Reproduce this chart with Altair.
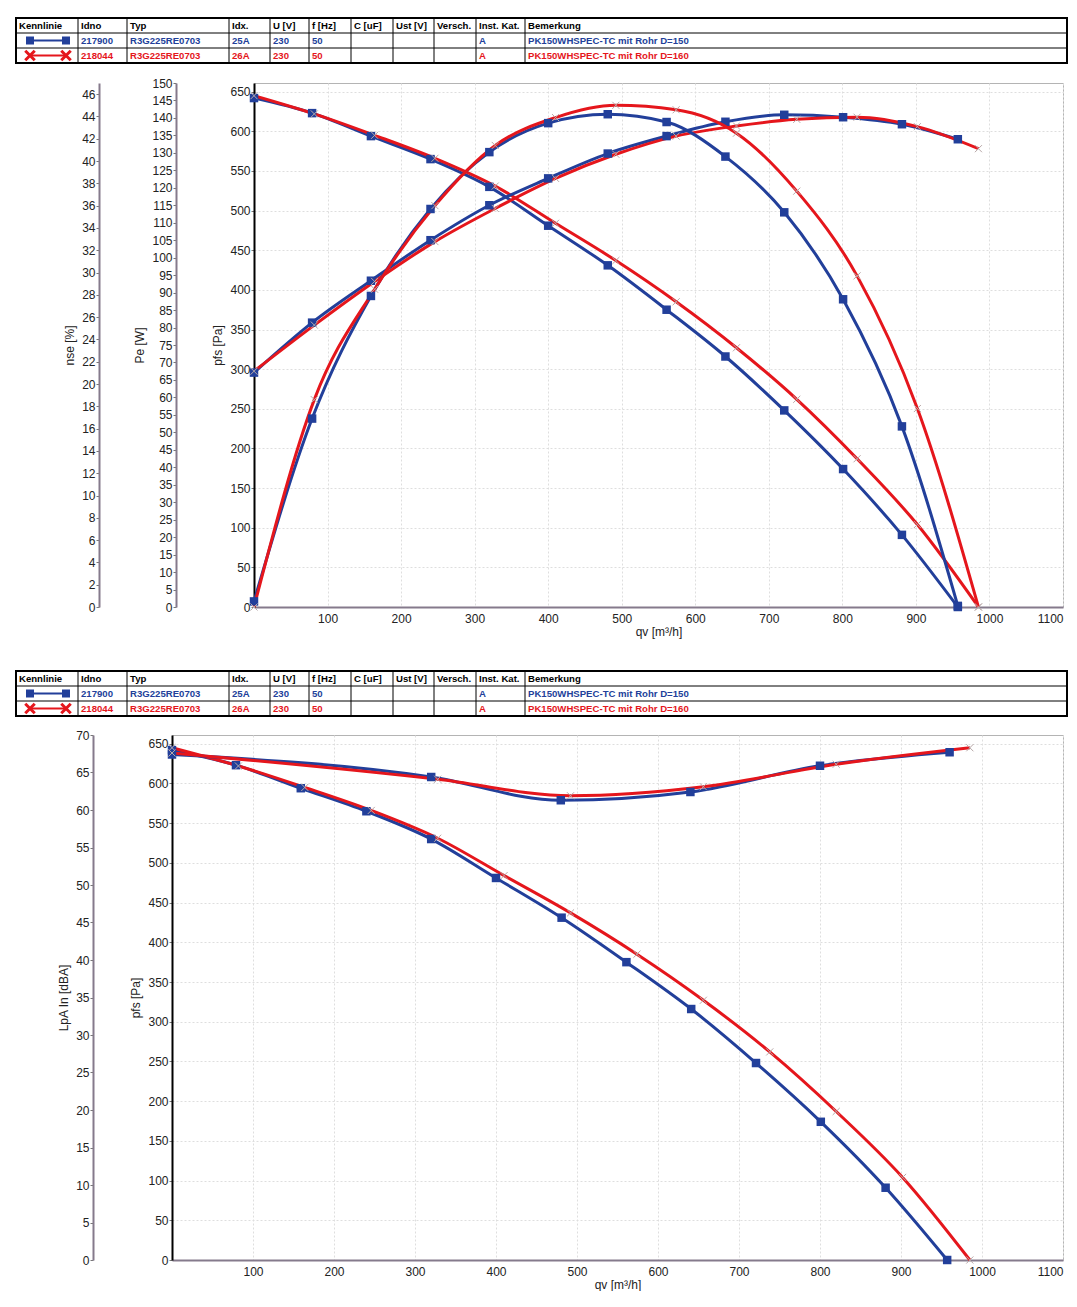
import altair as alt
import pandas as pd

# ---------------- data ----------------
SERIES = ["217900", "218044"]

# fan 217900 (blue, squares)
QV_B = [0, 79, 159, 240, 320, 400, 481, 561, 641, 721, 801, 881, 957]
PFS_B = [642, 623, 594, 565, 530, 481, 431, 375, 316, 248, 174, 91, 0]
PE_B = [67.1, 81.4, 93.4, 105.0, 115.0, 122.7, 129.8, 134.8, 138.9, 140.9, 140.2, 138.2, 133.9]
NSE_B = [0.5, 16.9, 27.9, 35.7, 40.8, 43.4, 44.2, 43.5, 40.4, 35.4, 27.6, 16.2, 0.1]

# fan 218044 (red, crosses)
QV_R = [0, 82, 164, 246, 328, 410, 492, 574, 656, 738, 820, 902, 985]
PFS_R = [645, 622, 595, 566, 531, 484, 437, 385, 327, 262, 187, 104, 0]
PE_R = [67.5, 80.7, 93.2, 104.6, 114.1, 122.7, 129.6, 134.8, 137.7, 139.6, 140.2, 137.5, 131.2]
NSE_R = [0, 18.6, 28.5, 36.0, 41.4, 43.9, 45.0, 44.6, 42.5, 37.3, 29.7, 17.8, 0]

# sound pressure level
LPA_QV_B = [0, 320, 480, 640, 800, 960]
LPA_B = [67.4, 64.4, 61.3, 62.4, 65.9, 67.7]
LPA_QV_R = [0, 328, 492, 656, 820, 985]
LPA_R = [67.6, 64.1, 61.9, 63.1, 66.1, 68.3]

# table
HEADERS = ["Kennlinie", "Idno", "Typ", "Idx.", "U [V]", "f [Hz]", "C [uF]", "Ust [V]",
           "Versch.", "Inst. Kat.", "Bemerkung"]
ROW1 = ["", "217900", "R3G225RE0703", "25A", "230", "50", "", "", "", "A",
        "PK150WHSPEC-TC mit Rohr D=150"]
ROW2 = ["", "218044", "R3G225RE0703", "26A", "230", "50", "", "", "", "A",
        "PK150WHSPEC-TC mit Rohr D=160"]

# axis ticks
PFS_TICKS = list(range(0, 651, 50))
PE_TICKS = list(range(0, 151, 5))
NSE_TICKS = list(range(0, 47, 2))
LPA_TICKS = list(range(0, 71, 5))
QV_TICKS = list(range(100, 1101, 100))

# ---------------- style / layout ----------------
BLUE = "#223f9a"
RED = "#e5161c"
CROSS = "#b8a8a8"
FONT = "Liberation Sans"
TFONT = "Liberation Sans"
AXIS_GREY = "#857a8c"
XPATH = "M-1,-1L1,1M-1,1L1,-1"

TABLE_W = 1051
TABLE_H = 45
COL_EDGES = [0, 62, 111, 213, 254, 293, 335, 377, 418, 460, 509, 1051]
ROW_EDGES = [0, 15, 30, 45]
ROW_MID = [7.5, 22.5, 37.5]
SYM_X = [14, 50]


def long_df(qb, vb, qr, vr):
    rows = [{"qv": q, "v": v, "s": SERIES[0]} for q, v in zip(qb, vb)]
    rows += [{"qv": q, "v": v, "s": SERIES[1]} for q, v in zip(qr, vr)]
    return pd.DataFrame(rows)


def family(df, yscale, yaxis, xscale, xaxis):
    base = alt.Chart(df)
    x = alt.X("qv:Q", scale=xscale, axis=xaxis)
    y = alt.Y("v:Q", scale=yscale, axis=yaxis)
    line = base.mark_line(interpolate="monotone", strokeWidth=3).encode(
        x=x, y=y,
        color=alt.Color("s:N", scale=alt.Scale(domain=SERIES, range=[BLUE, RED]), legend=None),
    )
    sq = base.transform_filter(alt.datum.s == SERIES[0]).mark_square(
        size=72, color=BLUE, opacity=1).encode(x=x, y=y)
    cr = base.transform_filter(alt.datum.s == SERIES[1]).mark_point(
        shape=XPATH, size=50, color=CROSS, strokeWidth=1, opacity=1).encode(x=x, y=y)
    return alt.layer(line, sq, cr)


def x_axis():
    return alt.Axis(title="qv [m³/h]", values=QV_TICKS, format="d", labelFlush=True,
                    grid=True, gridColor="#dedede",
                    gridDash=[2, 2], domainColor=AXIS_GREY, domainWidth=2, ticks=False,
                    labelPadding=6, labelFontSize=12, labelColor="#222", titleFontSize=12,
                    titleFontWeight="normal", titlePadding=2, titleColor="#222")


def pfs_axis():
    return alt.Axis(title="pfs [Pa]", values=PFS_TICKS, orient="left", grid=True,
                    gridColor="#dedede", gridDash=[2, 2], domainColor="#000", domainWidth=2,
                    tickColor="#777", tickSize=3, labelFontSize=12, labelColor="#222",
                    labelPadding=1, titleFontSize=12, titleFontWeight="normal",
                    titlePadding=5, titleColor="#222")


def side_axis(title, ticks, offset):
    return alt.Axis(title=title, values=ticks, orient="left", offset=offset, grid=False,
                    domainColor=AXIS_GREY, domainWidth=2, tickColor="#777", tickSize=3,
                    labelFontSize=12, labelColor="#222", labelPadding=1, titleFontSize=12,
                    titleFontWeight="normal", titlePadding=5, titleColor="#222")


def table_layer(xrange, yrange):
    xs = alt.Scale(domain=[0, TABLE_W], range=xrange, nice=False, zero=False)
    ys = alt.Scale(domain=[0, TABLE_H], range=yrange, nice=False, zero=False)
    X = lambda f: alt.X(f, scale=xs, axis=None)
    Y = lambda f: alt.Y(f, scale=ys, axis=None)

    hdf = pd.DataFrame({"x": [0] * len(ROW_EDGES), "x2": [TABLE_W] * len(ROW_EDGES), "y": ROW_EDGES})
    vdf = pd.DataFrame({"x": COL_EDGES, "y": [0] * len(COL_EDGES), "y2": [TABLE_H] * len(COL_EDGES)})
    bdf = pd.DataFrame({"x": [0], "x2": [TABLE_W], "y": [0], "y2": [TABLE_H]})

    hl = alt.Chart(hdf).mark_rule(color="#000", strokeWidth=1).encode(
        x=X("x:Q"), x2="x2:Q", y=Y("y:Q"))
    vl = alt.Chart(vdf).mark_rule(color="#000", strokeWidth=1).encode(
        x=X("x:Q"), y=Y("y:Q"), y2="y2:Q")
    border = alt.Chart(bdf).mark_rect(fillOpacity=0, stroke="#000", strokeWidth=2).encode(
        x=X("x:Q"), x2="x2:Q", y=Y("y:Q"), y2="y2:Q")

    layers = [hl, vl, border]
    for texts, ym, col in [(HEADERS, ROW_MID[0], "#000"), (ROW1, ROW_MID[1], BLUE),
                           (ROW2, ROW_MID[2], RED)]:
        tdf = pd.DataFrame({"x": [e + 3 for e in COL_EDGES[:-1]], "y": [ym] * len(texts), "t": texts})
        layers.append(alt.Chart(tdf).mark_text(
            align="left", baseline="middle", font=TFONT, fontSize=9.6, fontWeight="bold",
            color=col).encode(x=X("x:Q"), y=Y("y:Q"), text="t:N"))

    s1 = pd.DataFrame({"x": [SYM_X[0]], "x2": [SYM_X[1]], "y": [ROW_MID[1]]})
    s2 = pd.DataFrame({"x": [SYM_X[0]], "x2": [SYM_X[1]], "y": [ROW_MID[2]]})
    p1 = pd.DataFrame({"x": SYM_X, "y": [ROW_MID[1]] * 2})
    p2 = pd.DataFrame({"x": SYM_X, "y": [ROW_MID[2]] * 2})
    layers += [
        alt.Chart(s1).mark_rule(color=BLUE, strokeWidth=2).encode(x=X("x:Q"), x2="x2:Q", y=Y("y:Q")),
        alt.Chart(p1).mark_square(size=64, color=BLUE, opacity=1).encode(x=X("x:Q"), y=Y("y:Q")),
        alt.Chart(s2).mark_rule(color=RED, strokeWidth=2).encode(x=X("x:Q"), x2="x2:Q", y=Y("y:Q")),
        alt.Chart(p2).mark_point(shape=XPATH, size=90, color=RED, strokeWidth=3, opacity=1).encode(
            x=X("x:Q"), y=Y("y:Q")),
    ]
    return alt.layer(*layers)


def spacer():
    return alt.Chart(pd.DataFrame({"a": [0]})).mark_point(size=0, opacity=0).encode(
        x=alt.value(0), y=alt.value(0)
    ).properties(width=1, height=1, view=alt.ViewBackground(stroke="transparent"))


# ---------------- top panel ----------------
TOP_W, TOP_H = 809, 524
xs_top = alt.Scale(domain=[0, 1100], nice=False, zero=False)

top = alt.layer(
    family(long_df(QV_B, PFS_B, QV_R, PFS_R), alt.Scale(domain=[0, 661], nice=False),
           pfs_axis(), xs_top, x_axis()),
    family(long_df(QV_B, PE_B, QV_R, PE_R), alt.Scale(domain=[0, 150], nice=False),
           side_axis("Pe [W]", PE_TICKS, 78), xs_top, None),
    family(long_df(QV_B, NSE_B, QV_R, NSE_R), alt.Scale(domain=[0, 47], nice=False),
           side_axis("nse [%]", NSE_TICKS, 155), xs_top, None),
    table_layer([16 - 254, 1067 - 254], [19 - 84, 64 - 84]),
).resolve_scale(x="independent", y="independent").properties(width=TOP_W, height=TOP_H)

# ---------------- bottom panel ----------------
BOT_W, BOT_H = 891, 525
xs_bot = alt.Scale(domain=[0, 1100], nice=False, zero=False)

bottom = alt.layer(
    family(long_df(QV_B, PFS_B, QV_R, PFS_R), alt.Scale(domain=[0, 661], nice=False),
           pfs_axis(), xs_bot, x_axis()),
    family(long_df(LPA_QV_B, LPA_B, LPA_QV_R, LPA_R), alt.Scale(domain=[0, 70], nice=False),
           side_axis("LpA In [dBA]", LPA_TICKS, 79), xs_bot, None),
    table_layer([16 - 172, 1067 - 172], [670 - 734, 715 - 734]),
).resolve_scale(x="independent", y="independent").properties(width=BOT_W, height=BOT_H)

chart = alt.vconcat(
    alt.hconcat(spacer(), top, spacing=0),
    alt.hconcat(spacer(), bottom, spacing=0),
    spacing=31,
).configure(
    padding={"top": 8, "left": 3, "right": 0, "bottom": 0}
).configure_view(stroke="#b4b4b4", strokeWidth=1).configure_axis(
    labelFont=FONT, titleFont=FONT
)

chart.save("out.html", embed_options={"renderer": "svg", "actions": False})
